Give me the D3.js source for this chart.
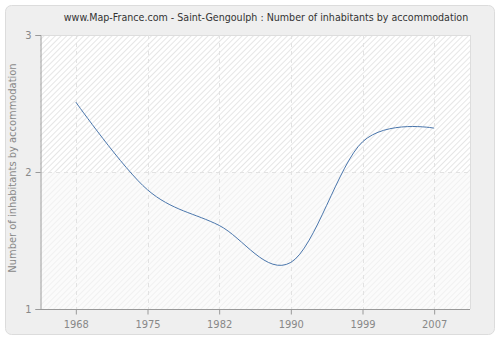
<!DOCTYPE html>
<html><head><meta charset="utf-8">
<script src="https://cdn.jsdelivr.net/npm/d3@7"></script>
<style>html,body{margin:0;padding:0;background:#fff;}svg{display:block;font-family:"DejaVu Sans Condensed","DejaVu Sans",Verdana,sans-serif;}</style>
</head><body>
<svg id="c" width="500" height="340"></svg>
<script>
const years = ["1968","1975","1982","1990","1999","2007"];
const values = [2.51, 1.87, 1.61, 1.34, 2.22, 2.32];
const yTicks = [1, 2, 3];
const title = "www.Map-France.com - Saint-Gengoulph : Number of inhabitants by accommodation";
const yLabel = "Number of inhabitants by accommodation";

const FONT = "'DejaVu Sans Condensed','DejaVu Sans',Verdana,sans-serif";
const svg = d3.select("#c");
const m = {l:40, r:470, t:35, b:309};

const defs = svg.append("defs");
function hatch(id, color, bg){
  const p = defs.append("pattern").attr("id", id).attr("patternUnits","userSpaceOnUse")
    .attr("width", 4).attr("height", 4).attr("patternTransform","rotate(45)");
  p.append("rect").attr("width",4).attr("height",4).attr("fill",bg);
  p.append("line").attr("x1",0.5).attr("y1",0).attr("x2",0.5).attr("y2",4).attr("stroke",color).attr("stroke-width",1);
}
hatch("h1","#e6e6e6","#ffffff");
hatch("h2","#f1f1f1","#fbfbfb");

svg.append("rect").attr("x",5.5).attr("y",5.5).attr("width",489).attr("height",329)
  .attr("rx",6).attr("fill","#efefef").attr("stroke","#dcdcdc");

const x = d3.scalePoint().domain(years).range([m.l, m.r]).padding(0.5);
const y = d3.scaleLinear().domain([1,3]).range([m.b, m.t]);

svg.append("rect").attr("x",m.l).attr("y",y(3)).attr("width",m.r-m.l).attr("height",y(2)-y(3)).attr("fill","url(#h1)");
svg.append("rect").attr("x",m.l).attr("y",y(2)).attr("width",m.r-m.l).attr("height",y(1)-y(2)).attr("fill","url(#h2)");
svg.append("path").attr("d",`M${m.r+0.5},${m.t}V${m.b}M${m.l},${m.t+0.5}H${m.r}`).attr("stroke","#dddddd").attr("fill","none");

// grid
svg.append("g").selectAll("line").data(years).join("line")
  .attr("x1",d=>Math.round(x(d))+0.5).attr("x2",d=>Math.round(x(d))+0.5)
  .attr("y1",m.t).attr("y2",m.b).attr("stroke","#e2e2e2").attr("stroke-dasharray","4,4");
svg.append("g").selectAll("line").data([2]).join("line")
  .attr("x1",m.l).attr("x2",m.r).attr("y1",d=>Math.round(y(d))+0.5).attr("y2",d=>Math.round(y(d))+0.5)
  .attr("stroke","#e2e2e2").attr("stroke-dasharray","4,4");

// axes
const ax = svg.append("g").attr("transform",`translate(0,${m.b+0.5})`)
  .call(d3.axisBottom(x).tickSizeOuter(0).tickSize(5).tickPadding(6));
const ay = svg.append("g").attr("transform",`translate(${m.l+0.5},0)`)
  .call(d3.axisLeft(y).tickValues(yTicks).tickFormat(d3.format("d")).tickSizeOuter(0).tickSize(5).tickPadding(4));
[ax,ay].forEach(g=>{
  g.select(".domain").attr("stroke","#999");
  g.selectAll(".tick line").attr("stroke","#999");
  g.selectAll(".tick text").attr("fill","#888").style("font-size","11px").style("font-family",FONT);
});
ax.select(".domain").attr("d",`M${m.l},0H${m.r}`);

// line
const pts = years.map((d,i)=>[x(d), y(values[i])]);
svg.append("path").attr("d", d3.line().curve(d3.curveCardinal.tension(0))(pts))
  .attr("fill","none").attr("stroke","#4a76ac").attr("stroke-width",1);

svg.append("text").attr("x",266).attr("y",21).attr("text-anchor","middle")
  .attr("fill","#333").style("font-size","10.6px").style("font-family",FONT).text(title);
svg.append("text").attr("transform",`translate(16,168) rotate(-90)`)
  .attr("text-anchor","middle").attr("fill","#888").style("font-size","11px").style("font-family",FONT).text(yLabel);
</script>
</body></html>
